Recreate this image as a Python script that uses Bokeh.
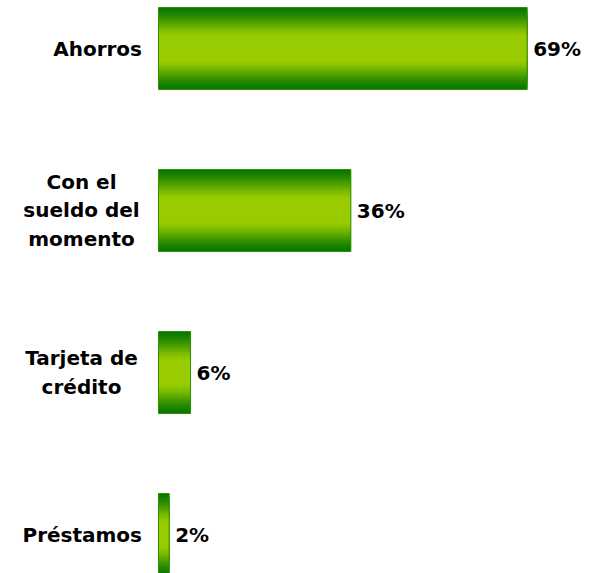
from bokeh.plotting import figure
from bokeh.models import ColumnDataSource, Range1d
from bokeh.core.properties import value
from bokeh.embed import file_html
from bokeh.resources import INLINE

categories = ["Ahorros", "Con el\nsueldo del\nmomento", "Tarjeta de\ncrédito", "Préstamos"]
values = [69, 36, 6, 2]
value_labels = ["69%", "36%", "6%", "2%"]

W, H = 596, 573
PX_PER_UNIT_X = 5.343
PX_PER_ROW = 162.0
LEFT_PX = 158.0
TOP_PX = 48.0
BAR_H = 82.0 / PX_PER_ROW

x_start = -LEFT_PX / PX_PER_UNIT_X
x_end = x_start + W / PX_PER_UNIT_X
y_top = -TOP_PX / PX_PER_ROW
y_bottom = y_top + H / PX_PER_ROW

p = figure(width=W, height=H, output_backend="svg", toolbar_location=None,
           x_range=Range1d(x_start, x_end), y_range=Range1d(y_bottom, y_top),
           min_border=0, outline_line_color=None)
p.axis.visible = False
p.grid.visible = False
p.background_fill_color = "white"
p.border_fill_color = "white"

dark = (0x08, 0x78, 0x00)
light = (0x99, 0xcc, 0x00)

def mix(t):
    return "#%02x%02x%02x" % tuple(int(round(l + (d - l) * t)) for l, d in zip(light, dark))

# concentric bands: full-height darkest first, thinner lighter ones on top
N = 30
ys, rights, hs, cols = [], [], [], []
for i, v in enumerate(values):
    for k in range(N):
        t = 1.0 - k / N          # relative half-height of this band (1 -> 0)
        f = min(max((t - 0.3) / 0.7, 0.0), 1.0)
        f = f * f * (3 - 2 * f) * 0.5 + f * 0.5
        ys.append(i)
        rights.append(v)
        hs.append(BAR_H * t)
        cols.append(mix(f))

strip_src = ColumnDataSource(dict(y=ys, right=rights, h=hs, c=cols))
p.hbar(y="y", left=0, right="right", height="h", fill_color="c", line_color=None, source=strip_src)

bar_src = ColumnDataSource(dict(y=list(range(len(values))), right=values))
p.hbar(y="y", left=0, right="right", height=BAR_H, fill_color=None,
       line_color="#2f8f00", line_width=1, source=bar_src)

FONT = value("DejaVu Sans")
FS = "20px"

# value labels
val_src = ColumnDataSource(dict(x=values, y=list(range(len(values))), t=value_labels))
p.text(x="x", y="y", text="t", source=val_src, x_offset=6,
       text_font=FONT, text_font_style="bold",
       text_font_size=FS, text_color="#000000",
       text_align="left", text_baseline="middle")

# category labels
single = [i for i, c in enumerate(categories) if "\n" not in c]
multi = [i for i, c in enumerate(categories) if "\n" in c]
s_src = ColumnDataSource(dict(x=[0] * len(single), y=single, t=[categories[i] for i in single]))
m_src = ColumnDataSource(dict(x=[0] * len(multi), y=multi, t=[categories[i] for i in multi]))
p.text(x="x", y="y", text="t", source=s_src, x_offset=-16.5,
       text_font=FONT, text_font_style="bold",
       text_font_size=FS, text_color="#000000",
       text_align="right", text_baseline="middle")
p.text(x="x", y="y", text="t", source=m_src, x_offset=-77,
       text_font=FONT, text_font_style="bold",
       text_font_size=FS, text_color="#000000",
       text_align="center", text_baseline="middle", text_line_height=1.17)

open("out.html", "w").write(file_html(p, INLINE))
